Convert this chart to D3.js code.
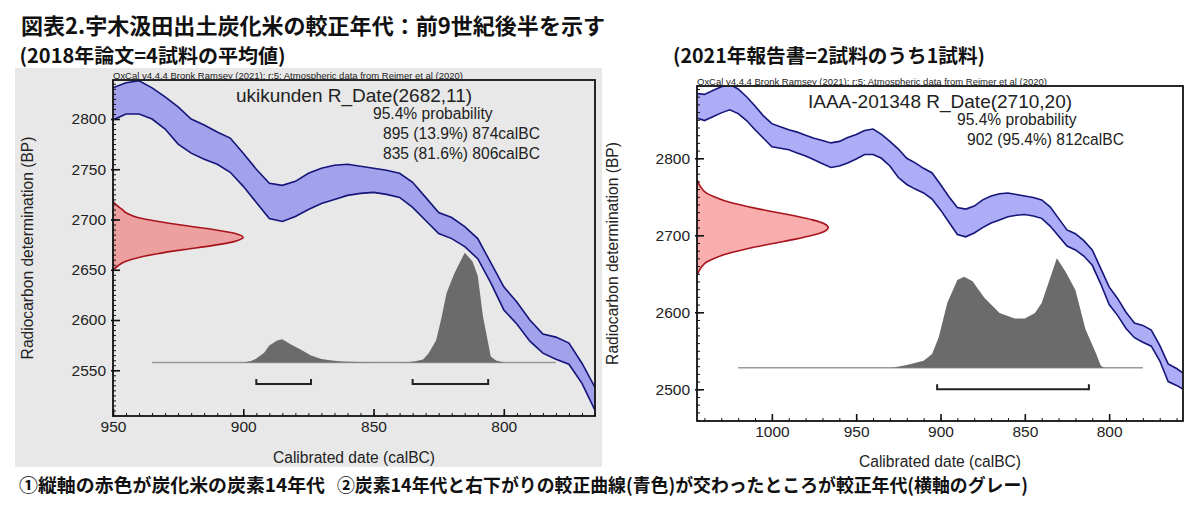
<!DOCTYPE html>
<html>
<head>
<meta charset="utf-8">
<script src="https://cdn.jsdelivr.net/npm/d3@7"></script>
<style>
  body { margin: 0; background: #fff; }
  svg { display: block; }
  .jp { font-family: "Noto Sans CJK JP", sans-serif; font-weight: bold; fill: #111; }
  .ox { font-family: "Liberation Sans", Arial, sans-serif; fill: #222; }
</style>
</head>
<body>
<svg id="chart" width="1200" height="511"></svg>
<script>
// IntCal20 band as drawn by OxCal (calBC, upper / lower BP)
const calYears = [1044, 1040, 1035, 1030, 1025, 1020, 1015, 1010, 1005, 1000, 995, 990, 985, 980, 975, 970, 965, 960, 955, 950,
                  945, 940, 935, 930, 925, 920, 915, 910, 905, 900, 895, 890, 885, 880, 875, 870, 865, 860, 855, 850,
                  845, 840, 835, 830, 825, 820, 815, 810, 805, 800, 795, 790, 785, 780, 775, 770, 765, 760, 756];
const calUpper = [2884, 2883, 2888, 2893, 2896, 2890, 2880, 2868, 2855, 2845, 2841, 2837, 2834, 2830, 2826, 2823, 2820, 2822, 2827, 2831,
                  2836, 2838, 2831, 2822, 2812, 2800, 2794, 2787, 2781, 2766, 2750, 2736, 2734, 2738, 2746, 2751, 2754, 2755, 2753, 2751,
                  2749, 2746, 2737, 2722, 2707, 2702, 2693, 2681, 2657, 2633, 2618, 2600, 2586, 2583, 2577, 2557, 2533, 2527, 2521];
const calLower = [2852, 2849, 2854, 2859, 2863, 2858, 2849, 2837, 2826, 2815, 2813, 2811, 2807, 2803, 2798, 2793, 2788, 2790, 2794, 2799,
                  2805, 2805, 2800, 2790, 2775, 2766, 2760, 2755, 2747, 2733, 2717, 2701, 2698, 2703, 2710, 2716, 2720, 2724, 2726, 2727,
                  2725, 2722, 2712, 2699, 2686, 2681, 2673, 2661, 2637, 2610, 2596, 2579, 2567, 2561, 2556, 2537, 2510, 2505, 2500];

// left: ukikunden R_Date(2682,11)
const leftTitle = "ukikunden R_Date(2682,11)";
const leftProbLines = ["95.4% probability", "895 (13.9%) 874calBC", "835 (81.6%) 806calBC"];
const leftRBP   = [2718, 2714, 2710, 2706, 2702, 2698, 2694, 2690, 2686, 2682, 2678, 2674, 2670, 2666, 2662, 2658, 2654, 2650];
const leftRDens = [0, 0.03, 0.07, 0.11, 0.19, 0.35, 0.55, 0.77, 0.94, 1, 0.93, 0.76, 0.54, 0.34, 0.19, 0.09, 0.04, 0];
const leftDistYears = [935, 902, 899, 897, 895, 892, 890, 887, 885, 882, 878, 874, 870, 866, 862, 856, 848, 840, 836, 834,
                       831, 829, 826, 824, 822, 819, 815, 812, 810, 808, 805, 803, 800, 798, 780];
const leftDistProb  = [0, 0, 0.5, 1.5, 3.6, 9, 15.5, 20, 21.3, 17, 11.8, 6.5, 3.2, 1.8, 1, 0.5, 0.3, 0.3, 0.6, 1.2,
                       2.7, 8, 20, 40, 63, 81, 100, 92, 79, 42, 5.5, 2, 0.3, 0, 0];
const leftRanges = [[895, 874], [835, 806]];
const leftXTicks = [950, 900, 850, 800];
const leftYTicks = [2550, 2600, 2650, 2700, 2750, 2800];

// right: IAAA-201348 R_Date(2710,20)
const rightTitle = "IAAA-201348 R_Date(2710,20)";
const rightProbLines = ["95.4% probability", "902 (95.4%) 812calBC"];
const rightRBP   = [2772, 2765, 2760, 2755, 2750, 2745, 2740, 2735, 2730, 2725, 2720, 2715, 2710, 2705, 2700, 2695, 2690,
                    2685, 2680, 2675, 2670, 2665, 2660, 2655, 2648];
const rightRDens = [0, 0.02, 0.04, 0.07, 0.13, 0.21, 0.32, 0.45, 0.6, 0.75, 0.88, 0.97, 1, 0.97, 0.88, 0.75, 0.6,
                    0.45, 0.32, 0.21, 0.13, 0.07, 0.04, 0.02, 0];
const rightDistYears = [1020, 930, 928, 920, 910, 905, 901, 896, 890, 886, 881, 874, 865, 856, 850, 844, 840, 835, 831, 826,
                        820, 814, 808, 805, 803, 780];
const rightDistProb  = [0, 0, 0.3, 2.4, 6.3, 12.6, 28, 59, 80, 83, 79, 64, 50, 45, 45, 50, 59, 82, 100, 88,
                        71, 35, 14, 2, 0, 0];
const rightRanges = [[902, 812]];
const rightXTicks = [1000, 950, 900, 850, 800];
const rightYTicks = [2500, 2600, 2700, 2800];

const oxcalNote = "OxCal v4.4.4 Bronk Ramsey (2021); r:5; Atmospheric data from Reimer et al (2020)";

const svg = d3.select("#chart");

// headings
svg.append("text").attr("class", "jp").attr("x", 21).attr("y", 34).attr("font-size", 22)
    .attr("textLength", 584).attr("lengthAdjust", "spacingAndGlyphs")
    .text("図表2.宇木汲田出土炭化米の較正年代：前9世紀後半を示す");
svg.append("text").attr("class", "jp").attr("x", 19.5).attr("y", 62.5).attr("font-size", 19.5)
    .attr("textLength", 266).attr("lengthAdjust", "spacingAndGlyphs")
    .text("(2018年論文=4試料の平均値)");
svg.append("text").attr("class", "jp").attr("x", 673).attr("y", 62.5).attr("font-size", 19.5)
    .attr("textLength", 312).attr("lengthAdjust", "spacingAndGlyphs")
    .text("(2021年報告書=2試料のうち1試料)");

// grey backdrop of the left screenshot
svg.append("rect").attr("x", 15).attr("y", 68).attr("width", 587).attr("height", 399).attr("fill", "#e8e8e8");

function drawPanel(p) {
    const g = svg.append("g").attr("transform", `translate(${p.left},${p.top})`);
    const x = d3.scaleLinear().domain(p.xDomain).range([0, p.width]);
    const y = d3.scaleLinear().domain(p.yDomain).range([p.height, 0]);

    const clipId = "clip-" + p.id;
    g.append("clipPath").attr("id", clipId)
        .append("rect").attr("width", p.width).attr("height", p.height);
    const plot = g.append("g").attr("clip-path", `url(#${clipId})`);

    // calibration curve
    const cal = calYears.map((yr, i) => ({yr: yr, hi: calUpper[i], lo: calLower[i]}));
    plot.append("path").datum(cal)
        .attr("d", d3.area().x(d => x(d.yr)).y0(d => y(d.lo)).y1(d => y(d.hi)))
        .attr("fill", "#5a5af0").attr("fill-opacity", 0.5);
    ["hi", "lo"].forEach(k => {
        plot.append("path").datum(cal)
            .attr("d", d3.line().x(d => x(d.yr)).y(d => y(d[k])))
            .attr("fill", "none").attr("stroke", "#15157a").attr("stroke-width", 1.6);
    });

    // radiocarbon determination on the y axis
    const dens = d3.scaleLinear().domain([0, 1]).range([0, p.width * 0.27]);
    const rd = p.rBP.map((bp, i) => ({bp: bp, v: p.rDens[i]}));
    plot.append("path").datum(rd)
        .attr("d", d3.area().curve(d3.curveMonotoneY).y(d => y(d.bp)).x0(0).x1(d => dens(d.v)))
        .attr("fill", "#f03c3c").attr("fill-opacity", 0.42);
    plot.append("path").datum(rd)
        .attr("d", d3.line().curve(d3.curveMonotoneY).y(d => y(d.bp)).x(d => dens(d.v)))
        .attr("fill", "none").attr("stroke", "#a8141c").attr("stroke-width", 1.6);

    // calibrated distribution
    const base = p.height * (1 - 0.159);
    const prob = d3.scaleLinear().domain([0, 100]).range([base, base - p.height * 0.327]);
    const dist = p.distYears.map((yr, i) => ({yr: yr, v: p.distProb[i]}));
    plot.append("line")
        .attr("x1", x(dist[0].yr)).attr("x2", x(dist[dist.length - 1].yr))
        .attr("y1", prob(0)).attr("y2", prob(0))
        .attr("stroke", "#9a9a9a").attr("stroke-width", 1.5);
    plot.append("path").datum(dist)
        .attr("d", d3.area().x(d => x(d.yr)).y0(prob(0)).y1(d => prob(d.v)))
        .attr("fill", "#6b6b6b");

    // 95.4% range brackets
    const by = base + p.height * 0.064;
    plot.selectAll(".range").data(p.ranges).enter().append("path")
        .attr("class", "range")
        .attr("d", d => `M${x(d[0])},${by - 5}V${by}H${x(d[1])}V${by - 5}`)
        .attr("fill", "none").attr("stroke", "#222").attr("stroke-width", 2);

    // axes, ticks inside the frame
    const xMinor = d3.range(Math.ceil(p.xDomain[1] / p.xMinor) * p.xMinor, p.xDomain[0] + 0.01, p.xMinor);
    const yMinor = d3.range(Math.ceil(p.yDomain[0] / p.yMinor) * p.yMinor, p.yDomain[1] + 0.01, p.yMinor);

    g.append("g").attr("transform", `translate(0,${p.height})`)
        .call(d3.axisBottom(x).tickValues(xMinor).tickSize(-3).tickFormat(""))
        .call(a => a.select(".domain").remove());
    g.append("g").call(d3.axisLeft(y).tickValues(yMinor).tickSize(-3).tickFormat(""))
        .call(a => a.select(".domain").remove());

    const xa = g.append("g").attr("transform", `translate(0,${p.height})`)
        .call(d3.axisBottom(x).tickValues(p.xTicks).tickSize(-7).tickPadding(5).tickFormat(d3.format("d")));
    const ya = g.append("g")
        .call(d3.axisLeft(y).tickValues(p.yTicks).tickSize(-7).tickPadding(7).tickFormat(d3.format("d")));
    ya.selectAll(".tick line").attr("x1", -2);
    [xa, ya].forEach(a => {
        a.select(".domain").remove();
        a.selectAll(".tick line").attr("stroke-width", 1.6);
        a.selectAll("text").attr("font-family", "'Liberation Sans', Arial, sans-serif")
            .attr("font-size", 15.5).attr("fill", "#222");
    });
    g.selectAll(".tick line").attr("stroke", "#111");

    g.append("rect").attr("width", p.width).attr("height", p.height)
        .attr("fill", "none").attr("stroke", "#111").attr("stroke-width", 1.8);

    // labels
    g.append("text").attr("class", "ox").attr("x", 0).attr("y", -1.5).attr("font-size", 9.5)
        .attr("textLength", 350).attr("lengthAdjust", "spacingAndGlyphs").text(oxcalNote);
    g.append("text").attr("class", "ox").attr("x", p.width / 2).attr("y", 22)
        .attr("text-anchor", "middle").attr("font-size", 19).text(p.title);
    g.selectAll(".prob").data(p.probLines).enter().append("text")
        .attr("class", "ox prob")
        .attr("x", (d, i) => i === 0 ? 260 : 270)
        .attr("y", (d, i) => 39 + i * 20)
        .attr("font-size", 15.6).text(d => d);

    g.append("text").attr("class", "ox").attr("x", p.width / 2).attr("y", p.height + p.xLabelY)
        .attr("text-anchor", "middle").attr("font-size", 15.6).text("Calibrated date (calBC)");
    g.append("text").attr("class", "ox")
        .attr("transform", `translate(${p.yLabelX},${p.height / 2}) rotate(-90)`)
        .attr("text-anchor", "middle").attr("font-size", 15.6).text("Radiocarbon determination (BP)");
}

drawPanel({
    id: "left", left: 113, top: 80, width: 482, height: 336,
    xDomain: [950, 765], yDomain: [2504.5, 2838.8], xMinor: 5, yMinor: 5,
    xTicks: leftXTicks, yTicks: leftYTicks,
    rBP: leftRBP, rDens: leftRDens, distYears: leftDistYears, distProb: leftDistProb,
    ranges: leftRanges, title: leftTitle, probLines: leftProbLines, yLabelX: -80, xLabelY: 47
});

drawPanel({
    id: "right", left: 697, top: 86, width: 486, height: 335,
    xDomain: [1044.4, 756.2], yDomain: [2458.8, 2893.9], xMinor: 10, yMinor: 10,
    xTicks: rightXTicks, yTicks: rightYTicks,
    rBP: rightRBP, rDens: rightRDens, distYears: rightDistYears, distProb: rightDistProb,
    ranges: rightRanges, title: rightTitle, probLines: rightProbLines, yLabelX: -79, xLabelY: 45.5
});

// footnote
svg.append("text").attr("class", "jp").attr("x", 19).attr("y", 492).attr("font-size", 18.5)
    .attr("textLength", 306).attr("lengthAdjust", "spacingAndGlyphs")
    .text("①縦軸の赤色が炭化米の炭素14年代");
svg.append("text").attr("class", "jp").attr("x", 337).attr("y", 492).attr("font-size", 18.5)
    .attr("textLength", 691).attr("lengthAdjust", "spacingAndGlyphs")
    .text("②炭素14年代と右下がりの較正曲線(青色)が交わったところが較正年代(横軸のグレー)");
</script>
</body>
</html>
